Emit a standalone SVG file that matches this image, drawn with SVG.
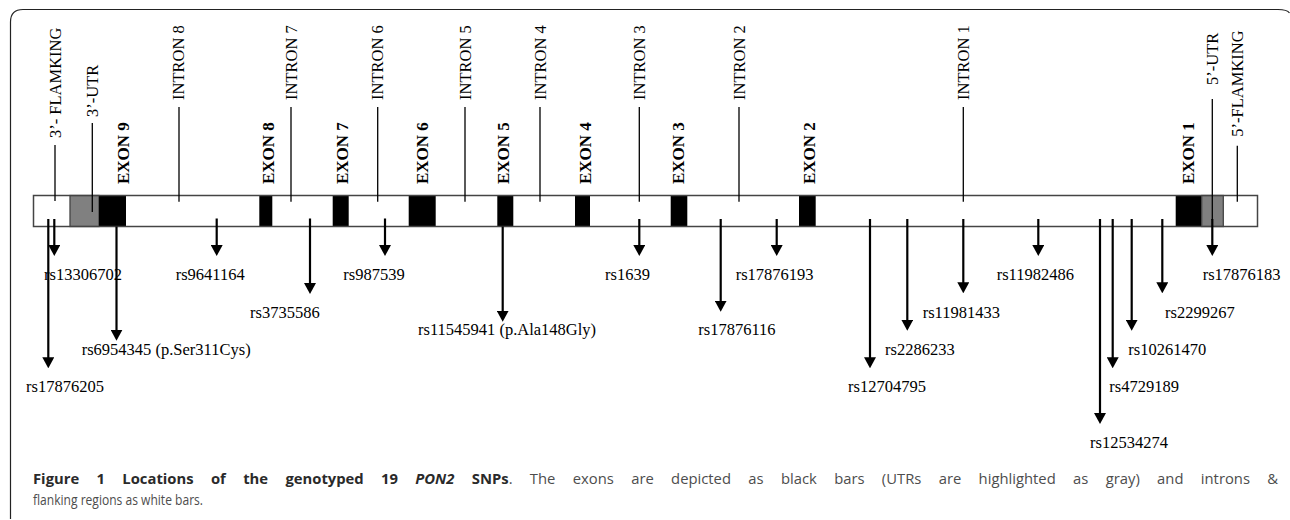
<svg xmlns="http://www.w3.org/2000/svg" width="1290" height="520" viewBox="0 0 1290 520">
<defs>
<marker id="ah" viewBox="0 0 11 12" refX="1" refY="6" markerWidth="11" markerHeight="12" markerUnits="userSpaceOnUse" orient="auto">
<path d="M0,0 L11,6 L0,12 z" fill="#000"/>
</marker>
<style>
.t{font-family:"Liberation Serif","Times New Roman",serif;font-size:16.5px;fill:#000}
.ex{font-family:"Liberation Serif","Times New Roman",serif;font-size:17px;font-weight:bold;fill:#000}
.tick{stroke:#000;stroke-width:1.3;fill:none}
.arr{stroke:#000;stroke-width:2.2;fill:none;marker-end:url(#ah)}
.wht{fill:#fff}
.blk{fill:#000}
.gry{fill:#808080;stroke:#444;stroke-width:1.3}
.out{fill:none;stroke:#444;stroke-width:1.5}
.cap{font-family:"Open Sans","DejaVu Sans",sans-serif;font-size:14.8px;fill:#4d4d4d}
.capb{font-weight:bold;fill:#2a2a2a}
.capbi{font-weight:bold;font-style:italic;fill:#2a2a2a}
</style>
</defs>
<rect width="1290" height="520" fill="#fff"/>
<path id="frame" d="M10.5,519 V22 Q10.5,9.5 23,9.5 H1278 Q1287,9.5 1289.5,13" fill="none" stroke="#222" stroke-width="1.2"/>

<g id="gene-bar">
<rect class="wht" x="33.5" y="195.5" width="1224" height="31"/>
<rect class="gry" x="70" y="195.5" width="29" height="31"/>
<rect class="blk" x="99" y="195.5" width="27" height="31"/>
<rect class="blk" x="259.3" y="195.5" width="13" height="31"/>
<rect class="blk" x="332.7" y="195.5" width="16" height="31"/>
<rect class="blk" x="408.7" y="195.5" width="27" height="31"/>
<rect class="blk" x="497.3" y="195.5" width="16" height="31"/>
<rect class="blk" x="575" y="195.5" width="15" height="31"/>
<rect class="blk" x="670.7" y="195.5" width="16.6" height="31"/>
<rect class="blk" x="799" y="195.5" width="16.7" height="31"/>
<rect class="blk" x="1175.7" y="195.5" width="26" height="31"/>
<rect class="gry" x="1201.7" y="195.5" width="21.6" height="31"/>
<rect class="out" x="33.5" y="195.5" width="1224" height="31"/>
</g>

<g id="region-labels">
<g id="flank3"><text class="t" transform="translate(60.5,138) rotate(-90)">3’- FLAMKING</text></g>
<g id="utr3"><text class="t" transform="translate(97.8,117) rotate(-90)">3’-UTR</text></g>
<g id="exon9"><text class="ex" transform="translate(129.3,184) rotate(-90)">EXON 9</text></g>
<g id="intron8"><text class="t" transform="translate(184.3,100) rotate(-90)">INTRON 8</text></g>
<g id="exon8"><text class="ex" transform="translate(273.5,184) rotate(-90)">EXON 8</text></g>
<g id="intron7"><text class="t" transform="translate(296.5,100) rotate(-90)">INTRON 7</text></g>
<g id="exon7"><text class="ex" transform="translate(347.7,184) rotate(-90)">EXON 7</text></g>
<g id="intron6"><text class="t" transform="translate(383.2,100) rotate(-90)">INTRON 6</text></g>
<g id="exon6"><text class="ex" transform="translate(428.3,184) rotate(-90)">EXON 6</text></g>
<g id="intron5"><text class="t" transform="translate(470.5,100) rotate(-90)">INTRON 5</text></g>
<g id="exon5"><text class="ex" transform="translate(509.3,184) rotate(-90)">EXON 5</text></g>
<g id="intron4"><text class="t" transform="translate(545.5,100) rotate(-90)">INTRON 4</text></g>
<g id="exon4"><text class="ex" transform="translate(590.7,184) rotate(-90)">EXON 4</text></g>
<g id="intron3"><text class="t" transform="translate(644.8,100) rotate(-90)">INTRON 3</text></g>
<g id="exon3"><text class="ex" transform="translate(684,184) rotate(-90)">EXON 3</text></g>
<g id="intron2"><text class="t" transform="translate(744.5,100) rotate(-90)">INTRON 2</text></g>
<g id="exon2"><text class="ex" transform="translate(815,184) rotate(-90)">EXON 2</text></g>
<g id="intron1"><text class="t" transform="translate(968.8,100) rotate(-90)">INTRON 1</text></g>
<g id="exon1"><text class="ex" transform="translate(1194.3,184) rotate(-90)">EXON 1</text></g>
<g id="utr5"><text class="t" transform="translate(1217.5,85) rotate(-90)">5’-UTR</text></g>
<g id="flank5"><text class="t" transform="translate(1242.8,136.7) rotate(-90)">5’-FLAMKING</text></g>
</g>

<g id="connectors">
<line class="tick" x1="55" y1="145" x2="55" y2="201"/>
<line class="tick" x1="92.3" y1="123" x2="92.3" y2="212"/>
<line class="tick" x1="179" y1="107" x2="179" y2="201.7"/>
<line class="tick" x1="291" y1="107" x2="291" y2="201.7"/>
<line class="tick" x1="377.7" y1="107" x2="377.7" y2="201.7"/>
<line class="tick" x1="465" y1="107" x2="465" y2="201.7"/>
<line class="tick" x1="540" y1="107" x2="540" y2="201.7"/>
<line class="tick" x1="639.3" y1="107" x2="639.3" y2="201.7"/>
<line class="tick" x1="739" y1="107" x2="739" y2="201.7"/>
<line class="tick" x1="963.3" y1="107" x2="963.3" y2="201.7"/>
<line class="tick" x1="1212.3" y1="99" x2="1212.3" y2="220"/>
<line class="tick" x1="1237.3" y1="145.7" x2="1237.3" y2="201.7"/>

<line class="arr" x1="48.3" y1="219" x2="48.3" y2="358.3"/>
<line class="arr" x1="54.3" y1="219" x2="54.3" y2="246"/>
<line class="arr" x1="116.5" y1="226.5" x2="116.5" y2="330.7"/>
<line class="arr" x1="216.7" y1="218.5" x2="216.7" y2="246"/>
<line class="arr" x1="310" y1="218.5" x2="310" y2="284"/>
<line class="arr" x1="385" y1="218.5" x2="385" y2="246"/>
<line class="arr" x1="502.7" y1="226.5" x2="502.7" y2="311.7"/>
<line class="arr" x1="639.3" y1="219" x2="639.3" y2="246"/>
<line class="arr" x1="720.7" y1="219" x2="720.7" y2="301.7"/>
<line class="arr" x1="776.7" y1="219" x2="776.7" y2="246"/>
<line class="arr" x1="870" y1="219" x2="870" y2="358.3"/>
<line class="arr" x1="907.3" y1="219" x2="907.3" y2="320.7"/>
<line class="arr" x1="963.3" y1="219" x2="963.3" y2="283.3"/>
<line class="arr" x1="1038.3" y1="219" x2="1038.3" y2="246"/>
<line class="arr" x1="1100" y1="219" x2="1100" y2="414"/>
<line class="arr" x1="1112.7" y1="219" x2="1112.7" y2="358.3"/>
<line class="arr" x1="1131.7" y1="219" x2="1131.7" y2="320.7"/>
<line class="arr" x1="1162.3" y1="219" x2="1162.3" y2="283.3"/>
<line class="arr" x1="1212.3" y1="219" x2="1212.3" y2="246"/>
</g>

<g id="snp-labels">
<g id="rs13306702"><text class="t" x="44" y="280">rs13306702</text></g>
<g id="rs9641164"><text class="t" x="175.7" y="280">rs9641164</text></g>
<g id="rs987539"><text class="t" x="343.3" y="280">rs987539</text></g>
<g id="rs1639"><text class="t" x="605" y="280">rs1639</text></g>
<g id="rs17876193"><text class="t" x="735.7" y="280">rs17876193</text></g>
<g id="rs11982486"><text class="t" x="996.7" y="280">rs11982486</text></g>
<g id="rs17876183"><text class="t" x="1202.7" y="280">rs17876183</text></g>
<g id="rs3735586"><text class="t" x="250" y="317.7">rs3735586</text></g>
<g id="rs11981433"><text class="t" x="922.7" y="317.7">rs11981433</text></g>
<g id="rs2299267"><text class="t" x="1165" y="317.7">rs2299267</text></g>
<g id="rs11545941"><text class="t" x="418" y="335">rs11545941 (p.Ala148Gly)</text></g>
<g id="rs17876116"><text class="t" x="698.3" y="335">rs17876116</text></g>
<g id="rs6954345"><text class="t" x="81.7" y="355">rs6954345 (p.Ser311Cys)</text></g>
<g id="rs2286233"><text class="t" x="885" y="355">rs2286233</text></g>
<g id="rs10261470"><text class="t" x="1128.3" y="355">rs10261470</text></g>
<g id="rs17876205"><text class="t" x="26" y="391.7">rs17876205</text></g>
<g id="rs12704795"><text class="t" x="848" y="391.7">rs12704795</text></g>
<g id="rs4729189"><text class="t" x="1109.3" y="391.7">rs4729189</text></g>
<g id="rs12534274"><text class="t" x="1090" y="448.3">rs12534274</text></g>
</g>

<g id="caption">
<text class="cap" x="33" y="484" style="word-spacing:13.5px"><tspan class="capb">Figure 1 Locations of the genotyped 19 </tspan><tspan class="capbi">PON2</tspan><tspan class="capb"> SNPs</tspan>. The exons are depicted as black bars (UTRs are highlighted as gray) and introns &amp;</text>
<text class="cap" x="33" y="504.5" style="font-size:14px" textLength="170" lengthAdjust="spacingAndGlyphs">flanking regions as white bars.</text>
</g>
</svg>
